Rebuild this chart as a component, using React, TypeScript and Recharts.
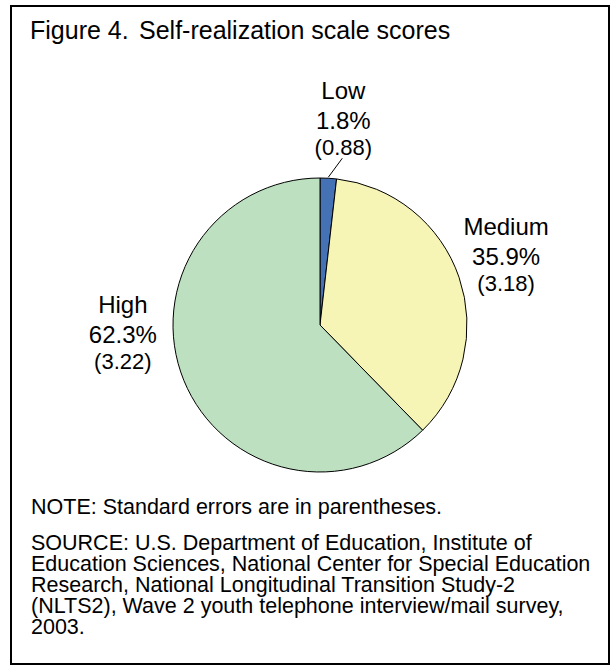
import React from "react";
import { PieChart, Pie, Cell } from "recharts";

// Self-realization scale score groups
const categories = ["Low", "Medium", "High"];
const percents = [1.8, 35.9, 62.3];
const stdErrors = ["0.88", "3.18", "3.22"];

const sliceColors = ["#4472B4", "#F6F5B6", "#BDE1C0"];

const noteLines = ["NOTE: Standard errors are in parentheses."];
const sourceLines = [
  "SOURCE: U.S. Department of Education, Institute of",
  "Education Sciences, National Center for Special Education",
  "Research, National Longitudinal Transition Study-2",
  "(NLTS2), Wave 2 youth telephone interview/mail survey,",
  "2003.",
];

const FONT = "'Liberation Sans', Arial, Helvetica, sans-serif";
const RAD = Math.PI / 180;

// label block placement relative to the slice's outer mid point
const labelOffsets = [
  { dx: 15, dy: -79 },
  { dx: 47, dy: -42 },
  { dx: -61, dy: -67 },
];

const data = categories.map((name, i) => ({
  name,
  value: percents[i],
  se: stdErrors[i],
}));

function outerPoint(cx: number, cy: number, r: number, angle: number) {
  return {
    x: cx + r * Math.cos(-angle * RAD),
    y: cy + r * Math.sin(-angle * RAD),
  };
}

const renderLabel = (props: any) => {
  const { cx, cy, midAngle, outerRadius, index } = props;
  const p = outerPoint(cx, cy, outerRadius, midAngle);
  const off = labelOffsets[index];
  const x = p.x + off.dx;
  const y = p.y + off.dy;
  const d = data[index];
  return (
    <text
      key={`lbl-${index}`}
      x={x}
      y={y}
      textAnchor="middle"
      fontFamily={FONT}
      fill="#000"
    >
      <tspan x={x} y={y} fontSize={24}>
        {d.name}
      </tspan>
      <tspan x={x} y={y + 30} fontSize={24}>
        {d.value.toFixed(1)}%
      </tspan>
      <tspan x={x} y={y + 56} fontSize={22}>
        ({d.se})
      </tspan>
    </text>
  );
};

const renderLabelLine = (props: any) => {
  const { cx, cy, midAngle, outerRadius, index } = props;
  if (index !== 0) return <g key={`ll-${index}`} />;
  const p = outerPoint(cx, cy, outerRadius, midAngle);
  return (
    <line
      key={`ll-${index}`}
      x1={p.x}
      y1={p.y - 1}
      x2={p.x + 14}
      y2={p.y - 20}
      stroke="#000"
      strokeWidth={1}
    />
  );
};

export default function App() {
  return (
    <div
      style={{
        position: "absolute",
        left: 0,
        top: 0,
        width: 615,
        height: 670,
        background: "#fff",
      }}
    >
      <div
        style={{
          position: "absolute",
          left: 10,
          top: 5,
          width: 600,
          height: 660,
          border: "2px solid #000",
          boxSizing: "border-box",
        }}
      />
      <svg
        width={615}
        height={670}
        style={{ position: "absolute", left: 0, top: 0 }}
      >
        <text x={30} y={39} fontFamily={FONT} fontSize={25} fill="#000">
          Figure 4.
        </text>
        <text x={139} y={39} fontFamily={FONT} fontSize={25} fill="#000">
          Self-realization scale scores
        </text>
        {noteLines.map((t, i) => (
          <text
            key={t}
            x={31}
            y={514 + i * 21}
            fontFamily={FONT}
            fontSize={21.5}
            fill="#000"
          >
            {t}
          </text>
        ))}
        {sourceLines.map((t, i) => (
          <text
            key={t}
            x={31}
            y={550 + i * 21}
            fontFamily={FONT}
            fontSize={21.5}
            fill="#000"
          >
            {t}
          </text>
        ))}
      </svg>
      <div style={{ position: "absolute", left: 0, top: 0 }}>
        <PieChart width={615} height={670}>
          <Pie
            data={data}
            dataKey="value"
            nameKey="name"
            cx={315}
            cy={320}
            outerRadius={147}
            startAngle={90}
            endAngle={-270}
            stroke="#000"
            strokeWidth={1}
            label={renderLabel}
            labelLine={renderLabelLine}
            isAnimationActive={false}
          >
            {data.map((d, i) => (
              <Cell key={d.name} fill={sliceColors[i]} />
            ))}
          </Pie>
        </PieChart>
      </div>
    </div>
  );
}
